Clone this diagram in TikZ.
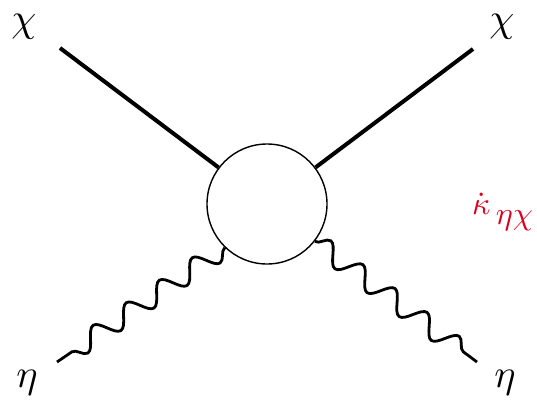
\documentclass[tikz,border=0pt]{standalone}
\usepackage{amsmath, amssymb}
\usepackage{graphicx}
\usepackage{tikz}
\usetikzlibrary{decorations.pathmorphing,positioning}
\definecolor{kapred}{rgb}{0.86,0,0.12}
\newcommand{\plbl}[2][4]{\scalebox{#1}{$#2$}}
\tikzset{
  fermion/.style={line width=4pt},
  photon/.style={line width=2.8pt, decorate,
    decoration={snake, amplitude=10pt, segment length=40pt, post length=6pt}},
  blob/.style={circle, draw, line width=1.4pt, minimum size=120pt, inner sep=0pt},
  plabel/.style={inner sep=0pt}
}
\begin{document}
\begin{tikzpicture}[x=1pt,y=-1pt]
        % Fix the page size
        \useasboundingbox (0,0) rectangle (537,401);
        % Vertex
        \node[blob] (vtx) at (267,204) {};
        % Outer end points
        \coordinate (chiL) at (60,48);
        \coordinate (chiR) at (473,49);
        \coordinate (etaL) at (57,362);
        \coordinate (etaR) at (477,362);
        % Particle labels
        \node[plabel] (chiLlbl) at (24,27) {\plbl{\chi}};
        \node[plabel] (chiRlbl) at (502,27) {\plbl{\chi}};
        \node[plabel] (etaLlbl) at (27,383) {\plbl{\eta}};
        \node[plabel] (etaRlbl) at (505,383) {\plbl{\eta}};
        % Straight legs
        \draw[fermion] (chiL) -- (vtx.143);
        \draw[fermion] (chiR) -- (vtx.37);
        % Wavy legs
        \draw[photon] (vtx.226) -- (etaL);
        \draw[photon] (vtx.322) -- (etaR);
        % Coupling
        \node[plabel, kapred, anchor=west] (kap) at (472,212)
          {\plbl[3.2]{\dot{\kappa}\,\raisebox{-0.3em}{$\eta\chi$}}};
      \end{tikzpicture}
\end{document}
